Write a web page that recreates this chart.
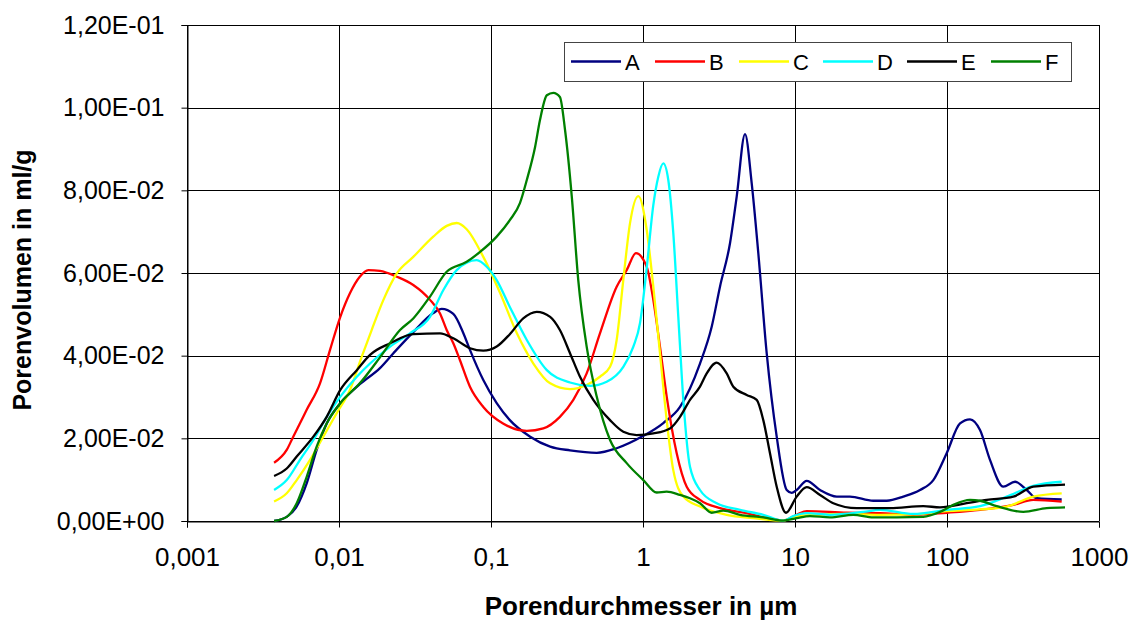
<!DOCTYPE html>
<html>
<head>
<meta charset="utf-8">
<script src="https://cdn.jsdelivr.net/npm/d3@7"></script>
<style>
  body { margin: 0; background: #fff; }
  svg { display: block; font-family: "Liberation Sans", Arial, sans-serif; }
</style>
</head>
<body>
<div id="viz"></div>
<script>
const width = 1136;
const height = 621;
const marginLeft = 187;
const marginRight = 37;
const marginTop = 25;
const marginBottom = 100;

// series names and colours
const seriesNames = ['A', 'B', 'C', 'D', 'E', 'F'];
const seriesColors = ['#000080', '#ff0000', '#ffff00', '#00ffff', '#000000', '#008000'];

const xTicks = [0.001, 0.01, 0.1, 1, 10, 100, 1000];
const xTickLabels = ['0,001', '0,01', '0,1', '1', '10', '100', '1000'];
const yTicks = [0, 0.02, 0.04, 0.06, 0.08, 0.1, 0.12];

// pore diameter (µm) and pore volume (ml/g)
const xA = [0.00374, 0.00453, 0.00527, 0.00613, 0.00713, 0.0083, 0.0102, 0.0137, 0.0186, 0.0228, 0.0308, 0.0417, 0.0474, 0.0565, 0.0657, 0.0727, 0.089, 0.109, 0.133, 0.181, 0.245, 0.331, 0.496, 0.671, 1.005, 1.36, 1.752, 2.371, 2.831, 3.21, 3.736, 4.135, 4.69, 5.19, 5.736, 6.513, 7.579, 8.819, 9.513, 10.26, 11.94, 14.61, 18.81, 23.0, 32.74, 40.12, 51.59, 66.44, 81.27, 99.5, 121.8, 141.7, 164.9, 191.8, 234.7, 280.2, 334.4, 389.1, 568.3];
const yA = [0, 0.0010, 0.0035, 0.0091, 0.0172, 0.0236, 0.0285, 0.0331, 0.0370, 0.0406, 0.0457, 0.0503, 0.0513, 0.0501, 0.0455, 0.0414, 0.0341, 0.0285, 0.0244, 0.0204, 0.0180, 0.0171, 0.0165, 0.0176, 0.0206, 0.0237, 0.0276, 0.0381, 0.0470, 0.0567, 0.0672, 0.0785, 0.0936, 0.0817, 0.0648, 0.0406, 0.0204, 0.0075, 0.0068, 0.0075, 0.0097, 0.0075, 0.0059, 0.0059, 0.0049, 0.0049, 0.0059, 0.0075, 0.0099, 0.0164, 0.0236, 0.0246, 0.0220, 0.0148, 0.0083, 0.0095, 0.0075, 0.0055, 0.0052];

const xB = [0.00374, 0.00453, 0.005, 0.00613, 0.0075, 0.00873, 0.0102, 0.0118, 0.0137, 0.0156, 0.0186, 0.024, 0.0308, 0.0397, 0.0462, 0.0511, 0.0565, 0.0625, 0.0727, 0.089, 0.12, 0.172, 0.221, 0.284, 0.348, 0.426, 0.521, 0.671, 0.781, 0.899, 1.058, 1.169, 1.293, 1.432, 1.666, 1.939, 2.371, 3.21, 4.812, 6.513, 8.375, 10.26, 11.94, 21.88, 36.25, 60.03, 99.5, 164.9, 273.1, 369.6, 568.3];
const yB = [0.0141, 0.0172, 0.0204, 0.0269, 0.0333, 0.0414, 0.0494, 0.0551, 0.0591, 0.0607, 0.0605, 0.0591, 0.0571, 0.0535, 0.0502, 0.0462, 0.0430, 0.0389, 0.0325, 0.0276, 0.0236, 0.0218, 0.0224, 0.0252, 0.0293, 0.0357, 0.0454, 0.0567, 0.0607, 0.0648, 0.0615, 0.0535, 0.0422, 0.0301, 0.0164, 0.0083, 0.0051, 0.0031, 0.0019, 0.0007, 0.0001, 0.0015, 0.0024, 0.0020, 0.0019, 0.0015, 0.0020, 0.0027, 0.0039, 0.0051, 0.0047];

const xC = [0.00374, 0.00453, 0.00527, 0.00645, 0.00788, 0.00966, 0.0118, 0.0141, 0.0164, 0.0196, 0.024, 0.0308, 0.0417, 0.0511, 0.0595, 0.0692, 0.089, 0.115, 0.148, 0.19, 0.245, 0.331, 0.426, 0.521, 0.607, 0.671, 0.742, 0.821, 0.931, 1.058, 1.169, 1.293, 1.432, 1.582, 1.842, 2.371, 3.554, 5.318, 8.375, 9.746, 13.19, 21.88, 36.25, 60.03, 99.5, 164.9, 247.1, 369.6, 568.3];
const yC = [0.0047, 0.0067, 0.0099, 0.0148, 0.0204, 0.0261, 0.0317, 0.0397, 0.0462, 0.0535, 0.0599, 0.0639, 0.0688, 0.0714, 0.0721, 0.0706, 0.0639, 0.0551, 0.0454, 0.0381, 0.0333, 0.0319, 0.0329, 0.0349, 0.0373, 0.0438, 0.0583, 0.0720, 0.0786, 0.0704, 0.0567, 0.0406, 0.0244, 0.0123, 0.0059, 0.0035, 0.0015, 0.0007, 0.0001, 0.0010, 0.0015, 0.0017, 0.0015, 0.0016, 0.0024, 0.0028, 0.0035, 0.0059, 0.0067];

const xD = [0.00374, 0.00453, 0.00554, 0.00678, 0.0083, 0.0102, 0.0131, 0.016, 0.0217, 0.0293, 0.0397, 0.0486, 0.0595, 0.0805, 0.0937, 0.109, 0.133, 0.172, 0.233, 0.331, 0.448, 0.577, 0.742, 0.864, 0.956, 1.058, 1.169, 1.261, 1.36, 1.467, 1.582, 1.707, 1.842, 2.038, 2.371, 3.054, 4.347, 6.186, 8.375, 9.746, 11.94, 16.99, 28.14, 36.25, 60.03, 99.5, 164.9, 247.1, 369.6, 568.3];
const yD = [0.0075, 0.0099, 0.0148, 0.0196, 0.0252, 0.0301, 0.0349, 0.0381, 0.0422, 0.0454, 0.0494, 0.0559, 0.0607, 0.0631, 0.0615, 0.0583, 0.0518, 0.0438, 0.0365, 0.0335, 0.0327, 0.0337, 0.0373, 0.0422, 0.0479, 0.0612, 0.0764, 0.0833, 0.0865, 0.0825, 0.0697, 0.0494, 0.0293, 0.0131, 0.0075, 0.0043, 0.0027, 0.0015, 0.0001, 0.0012, 0.0019, 0.0015, 0.0022, 0.0027, 0.0017, 0.0027, 0.0036, 0.0059, 0.0085, 0.0095];

const xE = [0.00374, 0.00453, 0.00527, 0.00678, 0.0083, 0.0102, 0.0131, 0.016, 0.0217, 0.0308, 0.0462, 0.0565, 0.0727, 0.089, 0.109, 0.133, 0.163, 0.2, 0.245, 0.284, 0.331, 0.385, 0.471, 0.607, 0.742, 0.909, 1.169, 1.505, 1.752, 2.038, 2.371, 2.625, 3.054, 3.554, 3.928, 4.812, 5.598, 6.186, 6.846, 7.579, 8.727, 10.26, 11.94, 14.61, 17.87, 25.46, 42.17, 69.84, 89.94, 134.8, 182.5, 273.1, 369.6, 597.5];
const yE = [0.0109, 0.0127, 0.0156, 0.0204, 0.0252, 0.0317, 0.0365, 0.0402, 0.0430, 0.0452, 0.0454, 0.0442, 0.0418, 0.0412, 0.0422, 0.0452, 0.0490, 0.0506, 0.0494, 0.0462, 0.0406, 0.0349, 0.0293, 0.0244, 0.0216, 0.0208, 0.0212, 0.0224, 0.0252, 0.0293, 0.0325, 0.0357, 0.0383, 0.0357, 0.0325, 0.0305, 0.0293, 0.0244, 0.0164, 0.0083, 0.0020, 0.0059, 0.0082, 0.0063, 0.0043, 0.0031, 0.0031, 0.0036, 0.0033, 0.0043, 0.0051, 0.0059, 0.0083, 0.0088];

const xF = [0.00374, 0.00453, 0.00527, 0.00613, 0.00713, 0.0083, 0.0102, 0.0137, 0.0186, 0.0252, 0.0308, 0.0397, 0.0511, 0.0692, 0.0847, 0.109, 0.133, 0.155, 0.172, 0.195, 0.21, 0.233, 0.257, 0.284, 0.307, 0.34, 0.375, 0.426, 0.496, 0.607, 0.781, 1.005, 1.231, 1.432, 1.752, 2.038, 2.371, 2.831, 3.376, 4.347, 6.186, 8.375, 10.26, 12.55, 16.99, 24.19, 32.74, 46.68, 69.84, 89.94, 110, 141.7, 164.9, 212.3, 317.7, 452.8, 597.5];
const yF = [0, 0.0010, 0.0043, 0.0107, 0.0180, 0.0236, 0.0285, 0.0333, 0.0396, 0.0462, 0.0490, 0.0543, 0.0603, 0.0627, 0.0651, 0.0688, 0.0728, 0.0769, 0.0825, 0.0905, 0.0970, 0.1030, 0.1036, 0.1026, 0.0946, 0.0785, 0.0583, 0.0422, 0.0301, 0.0196, 0.0140, 0.0099, 0.0069, 0.0071, 0.0063, 0.0055, 0.0043, 0.0020, 0.0025, 0.0015, 0.0009, 0.0001, 0.0007, 0.0012, 0.0009, 0.0015, 0.0009, 0.0009, 0.0010, 0.0022, 0.0039, 0.0051, 0.0049, 0.0036, 0.0022, 0.0031, 0.0033];

const xs = [xA, xB, xC, xD, xE, xF];
const ys = [yA, yB, yC, yD, yE, yF];

const fmtY = (v) => {
  // 1.20e-1 -> 1,20E-01
  const [m, e] = v.toExponential(2).split('e');
  const sign = e[0] === '-' ? '-' : '+';
  const digits = e.replace(/[+-]/, '').padStart(2, '0');
  return m.replace('.', ',') + 'E' + sign + digits;
};

const svg = d3
  .select('#viz')
  .append('svg')
  .attr('width', width)
  .attr('height', height);

const xScale = d3
  .scaleLog()
  .domain([0.001, 1000])
  .range([marginLeft, width - marginRight]);

const yScale = d3
  .scaleLinear()
  .domain([0, 0.12])
  .range([height - marginBottom, marginTop]);

// grid lines
svg
  .append('g')
  .selectAll('line')
  .data(yTicks)
  .join('line')
  .attr('x1', marginLeft)
  .attr('x2', width - marginRight)
  .attr('y1', (d) => Math.round(yScale(d)) + 0.5)
  .attr('y2', (d) => Math.round(yScale(d)) + 0.5)
  .attr('stroke', '#000');

svg
  .append('g')
  .selectAll('line')
  .data(xTicks)
  .join('line')
  .attr('x1', (d) => Math.round(xScale(d)) + 0.5)
  .attr('x2', (d) => Math.round(xScale(d)) + 0.5)
  .attr('y1', marginTop)
  .attr('y2', height - marginBottom)
  .attr('stroke', '#000');

// axes
const xAxis = d3
  .axisBottom(xScale)
  .tickValues(xTicks)
  .tickFormat((d, i) => xTickLabels[i])
  .tickSizeOuter(0)
  .tickSize(6)
  .tickPadding(20);

const yAxis = d3
  .axisLeft(yScale)
  .tickValues(yTicks)
  .tickFormat(fmtY)
  .tickSizeOuter(0)
  .tickSize(6)
  .tickPadding(17);

svg
  .append('g')
  .attr('transform', `translate(0, ${Math.round(yScale(0)) + 0.5})`)
  .call(xAxis)
  .call((g) => g.selectAll('text').attr('font-size', 26).attr('fill', '#000'))
  .call((g) => g.selectAll('line,path').attr('stroke', '#000'));

svg
  .append('g')
  .attr('transform', `translate(${Math.round(xScale(0.001)) + 0.5}, 0)`)
  .call(yAxis)
  .call((g) => g.selectAll('text').attr('font-size', 25).attr('fill', '#000'))
  .call((g) => g.selectAll('line,path').attr('stroke', '#000'));

// curves
const line = d3
  .line()
  .x((d) => xScale(d[0]))
  .y((d) => yScale(d[1]))
  .curve(d3.curveMonotoneX);

seriesNames.forEach((name, i) => {
  const pts = xs[i].map((x, j) => [x, ys[i][j]]);
  svg
    .append('path')
    .datum(pts)
    .attr('fill', 'none')
    .attr('stroke', seriesColors[i])
    .attr('stroke-width', 2.3)
    .attr('stroke-linejoin', 'round')
    .attr('d', line);
});

// legend
const legend = svg.append('g').attr('transform', 'translate(564, 42)');
legend
  .append('rect')
  .attr('x', 0.5)
  .attr('y', 0.5)
  .attr('width', 507)
  .attr('height', 39)
  .attr('fill', '#fff')
  .attr('stroke', '#444');

seriesNames.forEach((name, i) => {
  const g = legend.append('g').attr('transform', `translate(${7 + i * 84}, 19.5)`);
  g.append('line')
    .attr('x1', 0)
    .attr('x2', 50)
    .attr('stroke', seriesColors[i])
    .attr('stroke-width', 2.3);
  g.append('text')
    .attr('x', 54)
    .attr('y', 8)
    .attr('font-size', 22)
    .text(name);
});

// axis titles
svg
  .append('text')
  .attr('x', 641)
  .attr('y', 615)
  .attr('text-anchor', 'middle')
  .attr('font-size', 26)
  .attr('font-weight', 'bold')
  .text('Porendurchmesser in µm');

svg
  .append('text')
  .attr('transform', 'translate(31, 280) rotate(-90)')
  .attr('text-anchor', 'middle')
  .attr('font-size', 25)
  .attr('font-weight', 'bold')
  .text('Porenvolumen in ml/g');
</script>
</body>
</html>
